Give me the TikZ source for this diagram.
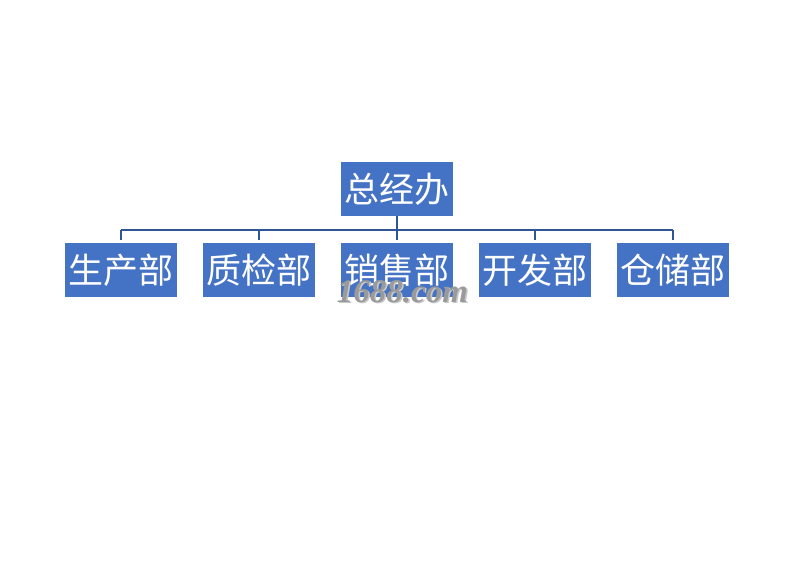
\documentclass[tikz,border=0pt]{standalone}
\usepackage{fontspec}
\newfontfamily\cjk{Noto Sans CJK SC}
\newfontfamily\wmfont{Liberation Serif}
\definecolor{boxblue}{HTML}{4472C4}
\definecolor{linkblue}{HTML}{2F5597}
\definecolor{wmgray}{HTML}{9A9A9A}
\definecolor{wmshadow}{HTML}{C8C8C8}
\begin{document}
\begin{tikzpicture}[x=1pt,y=-1pt,
  unit/.style={fill=boxblue,text=white,minimum width=112pt,minimum height=54pt,inner sep=0pt,font=\cjk\fontsize{35}{35}\selectfont},
  link/.style={draw=linkblue,line width=1.5pt},
  wmark/.style={font=\wmfont\bfseries\itshape\fontsize{33}{33}\selectfont,anchor=base}]
\useasboundingbox (0,0) rectangle (803,576);
\node[unit] (top) at (397,189) {总经办};
\node[unit] (a) at (121,270) {生产部};
\node[unit] (b) at (259,270) {质检部};
\node[unit] (c) at (397,270) {销售部};
\node[unit] (d) at (535,270) {开发部};
\node[unit] (e) at (673,270) {仓储部};
\coordinate (hl) at (121,230);
\coordinate (hr) at (673,230);
\draw[link] (top.south) -- (top.south |- hl);
\draw[link] (hl) -- (hr);
\foreach \n in {a,b,c,d,e}{
  \draw[link] (\n.north |- hl) -- ([yshift=3pt]\n.north);
}
\node[wmark,text=wmshadow] (wms) at (404,303.5) {1688.com};
\node[wmark,text=wmgray] (wm) at (402.5,302) {1688.com};
\end{tikzpicture}
\end{document}
